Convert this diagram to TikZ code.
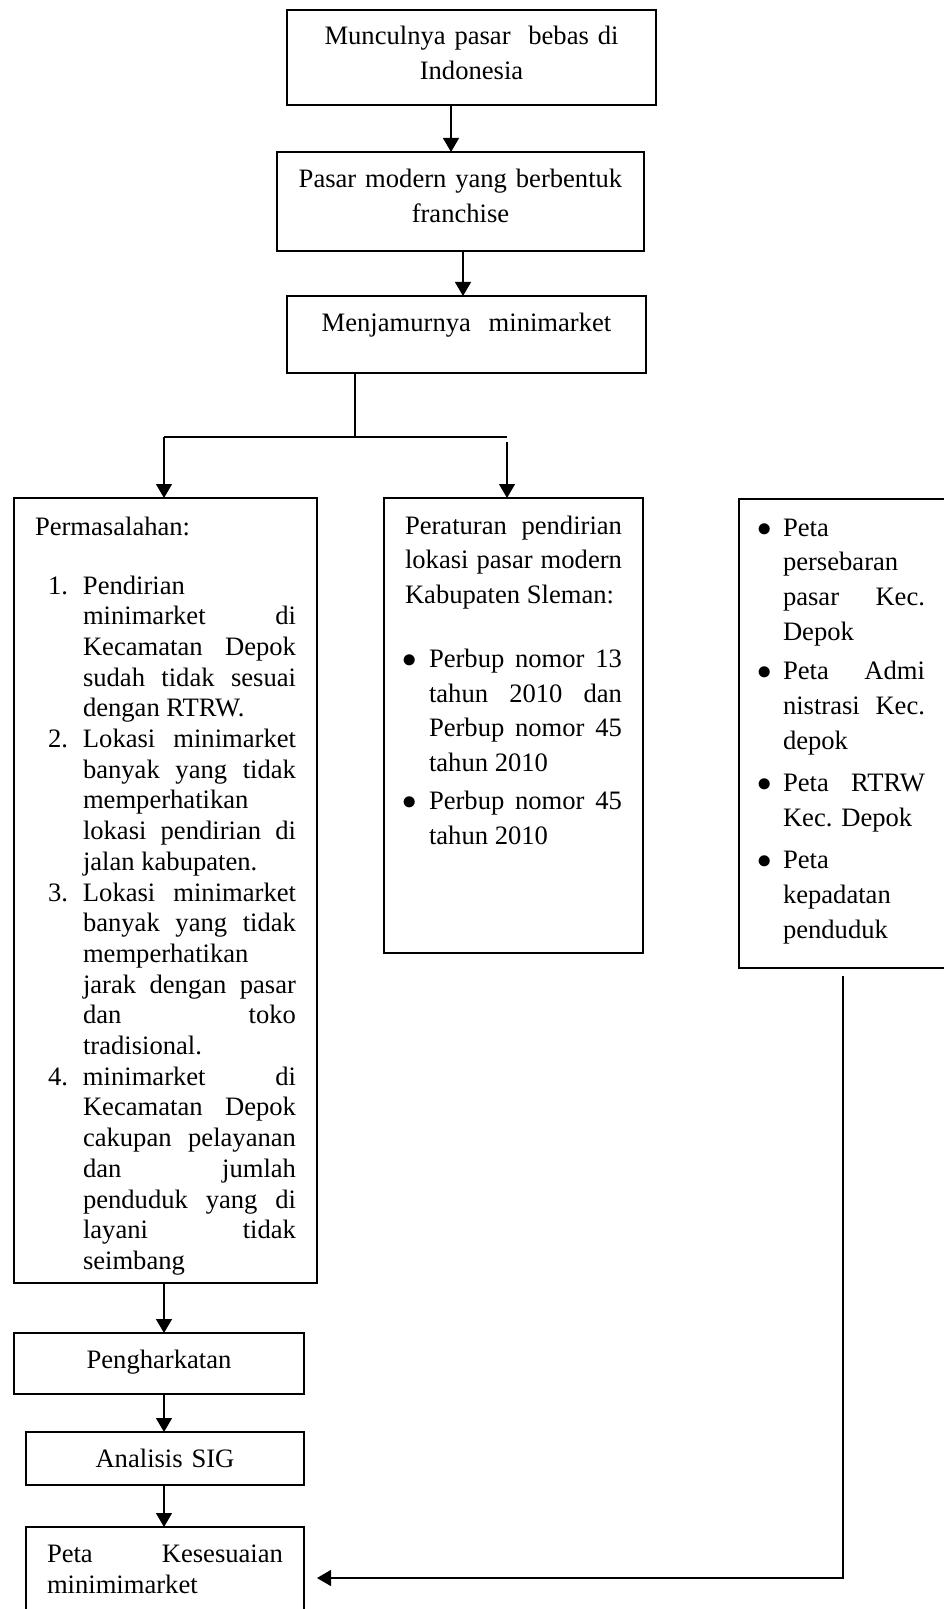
\documentclass[tikz,border=0pt]{standalone}
\usepackage{fontspec}
\setmainfont{Liberation Serif}
\usetikzlibrary{arrows.meta}
\tolerance=10000
\hbadness=10000

% list labels inside the boxes
\newcommand{\nomor}[1]{\hangindent=24pt\hangafter=1\makebox[24pt][l]{\hspace{6.5pt}#1.}\ignorespaces}
\newcommand{\tanda}[1]{\hangindent=#1\hangafter=1\makebox[#1][l]{\hspace{-1.4pt}$\bullet$}\ignorespaces}

\begin{document}
\begin{tikzpicture}[x=0.5pt, y=-0.5pt,
		kotak/.style={draw, line width=0.65pt, inner ysep=0pt, outer sep=0pt, anchor=north west},
		tengah/.style={kotak, inner xsep=0pt, align=center, font=\fontsize{13.3}{17.5}\selectfont},
		rata/.style={kotak, inner xsep=10.5pt, align=justify},
		panah/.style={line width=0.6pt, -{Triangle[width=8pt,length=7pt]}},
		garis/.style={line width=0.6pt}]
			\useasboundingbox (0,0) rectangle (943,1609);
			
			% top chain
			\node[tengah, text width=184.5pt, text height=17.5pt, text depth=30pt] (muncul) at (287,10)
				{Munculnya pasar~ bebas di\\Indonesia};
			\node[tengah, text width=183.5pt, text height=18pt, text depth=31.5pt] (pasar) at (277,152)
				{Pasar modern yang berbentuk\\franchise};
			\node[tengah, text width=179.5pt, text height=18pt, text depth=20.5pt] (jamur) at (287,296)
				{Menjamurnya~ minimarket};
			
			% three columns
			\node[rata, text width=130.5pt, text height=18.5pt, text depth=374pt,
				font=\fontsize{13.3}{15.35}\selectfont] (masalah) at (14,498)
				{Permasalahan:\par\vspace{14.15pt}%
				\nomor{1}Pendirian\linebreak minimarket di\linebreak Kecamatan Depok\linebreak sudah tidak sesuai\linebreak dengan RTRW.\par
				\nomor{2}Lokasi minimarket\linebreak banyak yang tidak\linebreak memperhatikan\linebreak lokasi pendirian di\linebreak jalan kabupaten.\par
				\nomor{3}Lokasi minimarket\linebreak banyak yang tidak\linebreak memperhatikan\linebreak jarak dengan pasar\linebreak dan toko\linebreak tradisional.\par
				\nomor{4}minimarket di\linebreak Kecamatan Depok\linebreak cakupan pelayanan\linebreak dan jumlah\linebreak penduduk yang di\linebreak layani tidak\linebreak seimbang\par};
			\node[rata, text width=108.5pt, text height=18pt, text depth=209.5pt,
				font=\fontsize{13.3}{17.35}\selectfont] (aturan) at (384,498)
				{Peraturan pendirian\linebreak lokasi pasar modern\linebreak Kabupaten Sleman:\par\vspace{14.65pt}%
				\tanda{12pt}Perbup nomor 13\linebreak tahun 2010 dan\linebreak Perbup nomor 45\linebreak tahun 2010\par\vspace{1.65pt}%
				\tanda{12pt}Perbup nomor 45\linebreak tahun 2010\par};
			\node[rata, text width=82.5pt, text height=18.5pt, text depth=216pt,
				font=\fontsize{13.3}{17.4}\selectfont] (datapeta) at (739,499)
				{\tanda{11.5pt}Peta\linebreak persebaran\linebreak pasar Kec.\linebreak Depok\par\vspace{2.1pt}%
				\tanda{11.5pt}Peta Admi\linebreak nistrasi Kec.\linebreak depok\par\vspace{3.85pt}%
				\tanda{11.5pt}Peta RTRW\linebreak Kec. Depok\par\vspace{3.85pt}%
				\tanda{11.5pt}Peta\linebreak kepadatan\linebreak penduduk\par};
			
			% bottom chain
			\node[tengah, text width=145pt, text height=17.5pt, text depth=13pt] (harkat) at (14,1333)
				{Pengharkatan};
			\node[tengah, text width=139pt, text height=17.5pt, text depth=9pt] (sig) at (26,1432)
				{Analisis SIG};
			\node[rata, text width=118pt, text height=17.5pt, text depth=33.5pt,
				font=\fontsize{13.3}{15.5}\selectfont] (hasil) at (26,1527)
				{Peta Kesesuaian\linebreak minimimarket};
			
			% connector x positions
			\coordinate (p1) at (451,0);
			\coordinate (p2) at (463,0);
			\coordinate (cab) at (355,437);
			\coordinate (kiri) at (164,437);
			\coordinate (kanan) at (507,437);
			\coordinate (kolom) at (164,0);
			\coordinate (balik) at (843,0);
			
			\draw[panah] (muncul.south -| p1) -- (pasar.north -| p1);
			\draw[panah] (pasar.south -| p2) -- (jamur.north -| p2);
			
			% branch
			\draw[garis] (jamur.south -| cab) -- (cab);
			\draw[garis] (kiri) -- (kanan);
			\draw[panah] (kiri) -- (kiri |- masalah.north);
			\draw[panah, shorten <=2.5pt] (kanan) -- (kanan |- aturan.north);
			
			% left column down
			\draw[panah] (masalah.south -| kolom) -- (harkat.north -| kolom);
			\draw[panah] (harkat.south -| kolom) -- (sig.north -| kolom);
			\draw[panah] (sig.south -| kolom) -- (hasil.north -| kolom);
			
			% maps back to result
			\draw[panah, shorten <=4pt, shorten >=6.5pt] (datapeta.south -| balik) |- (hasil.east);
		\end{tikzpicture}
\end{document}
